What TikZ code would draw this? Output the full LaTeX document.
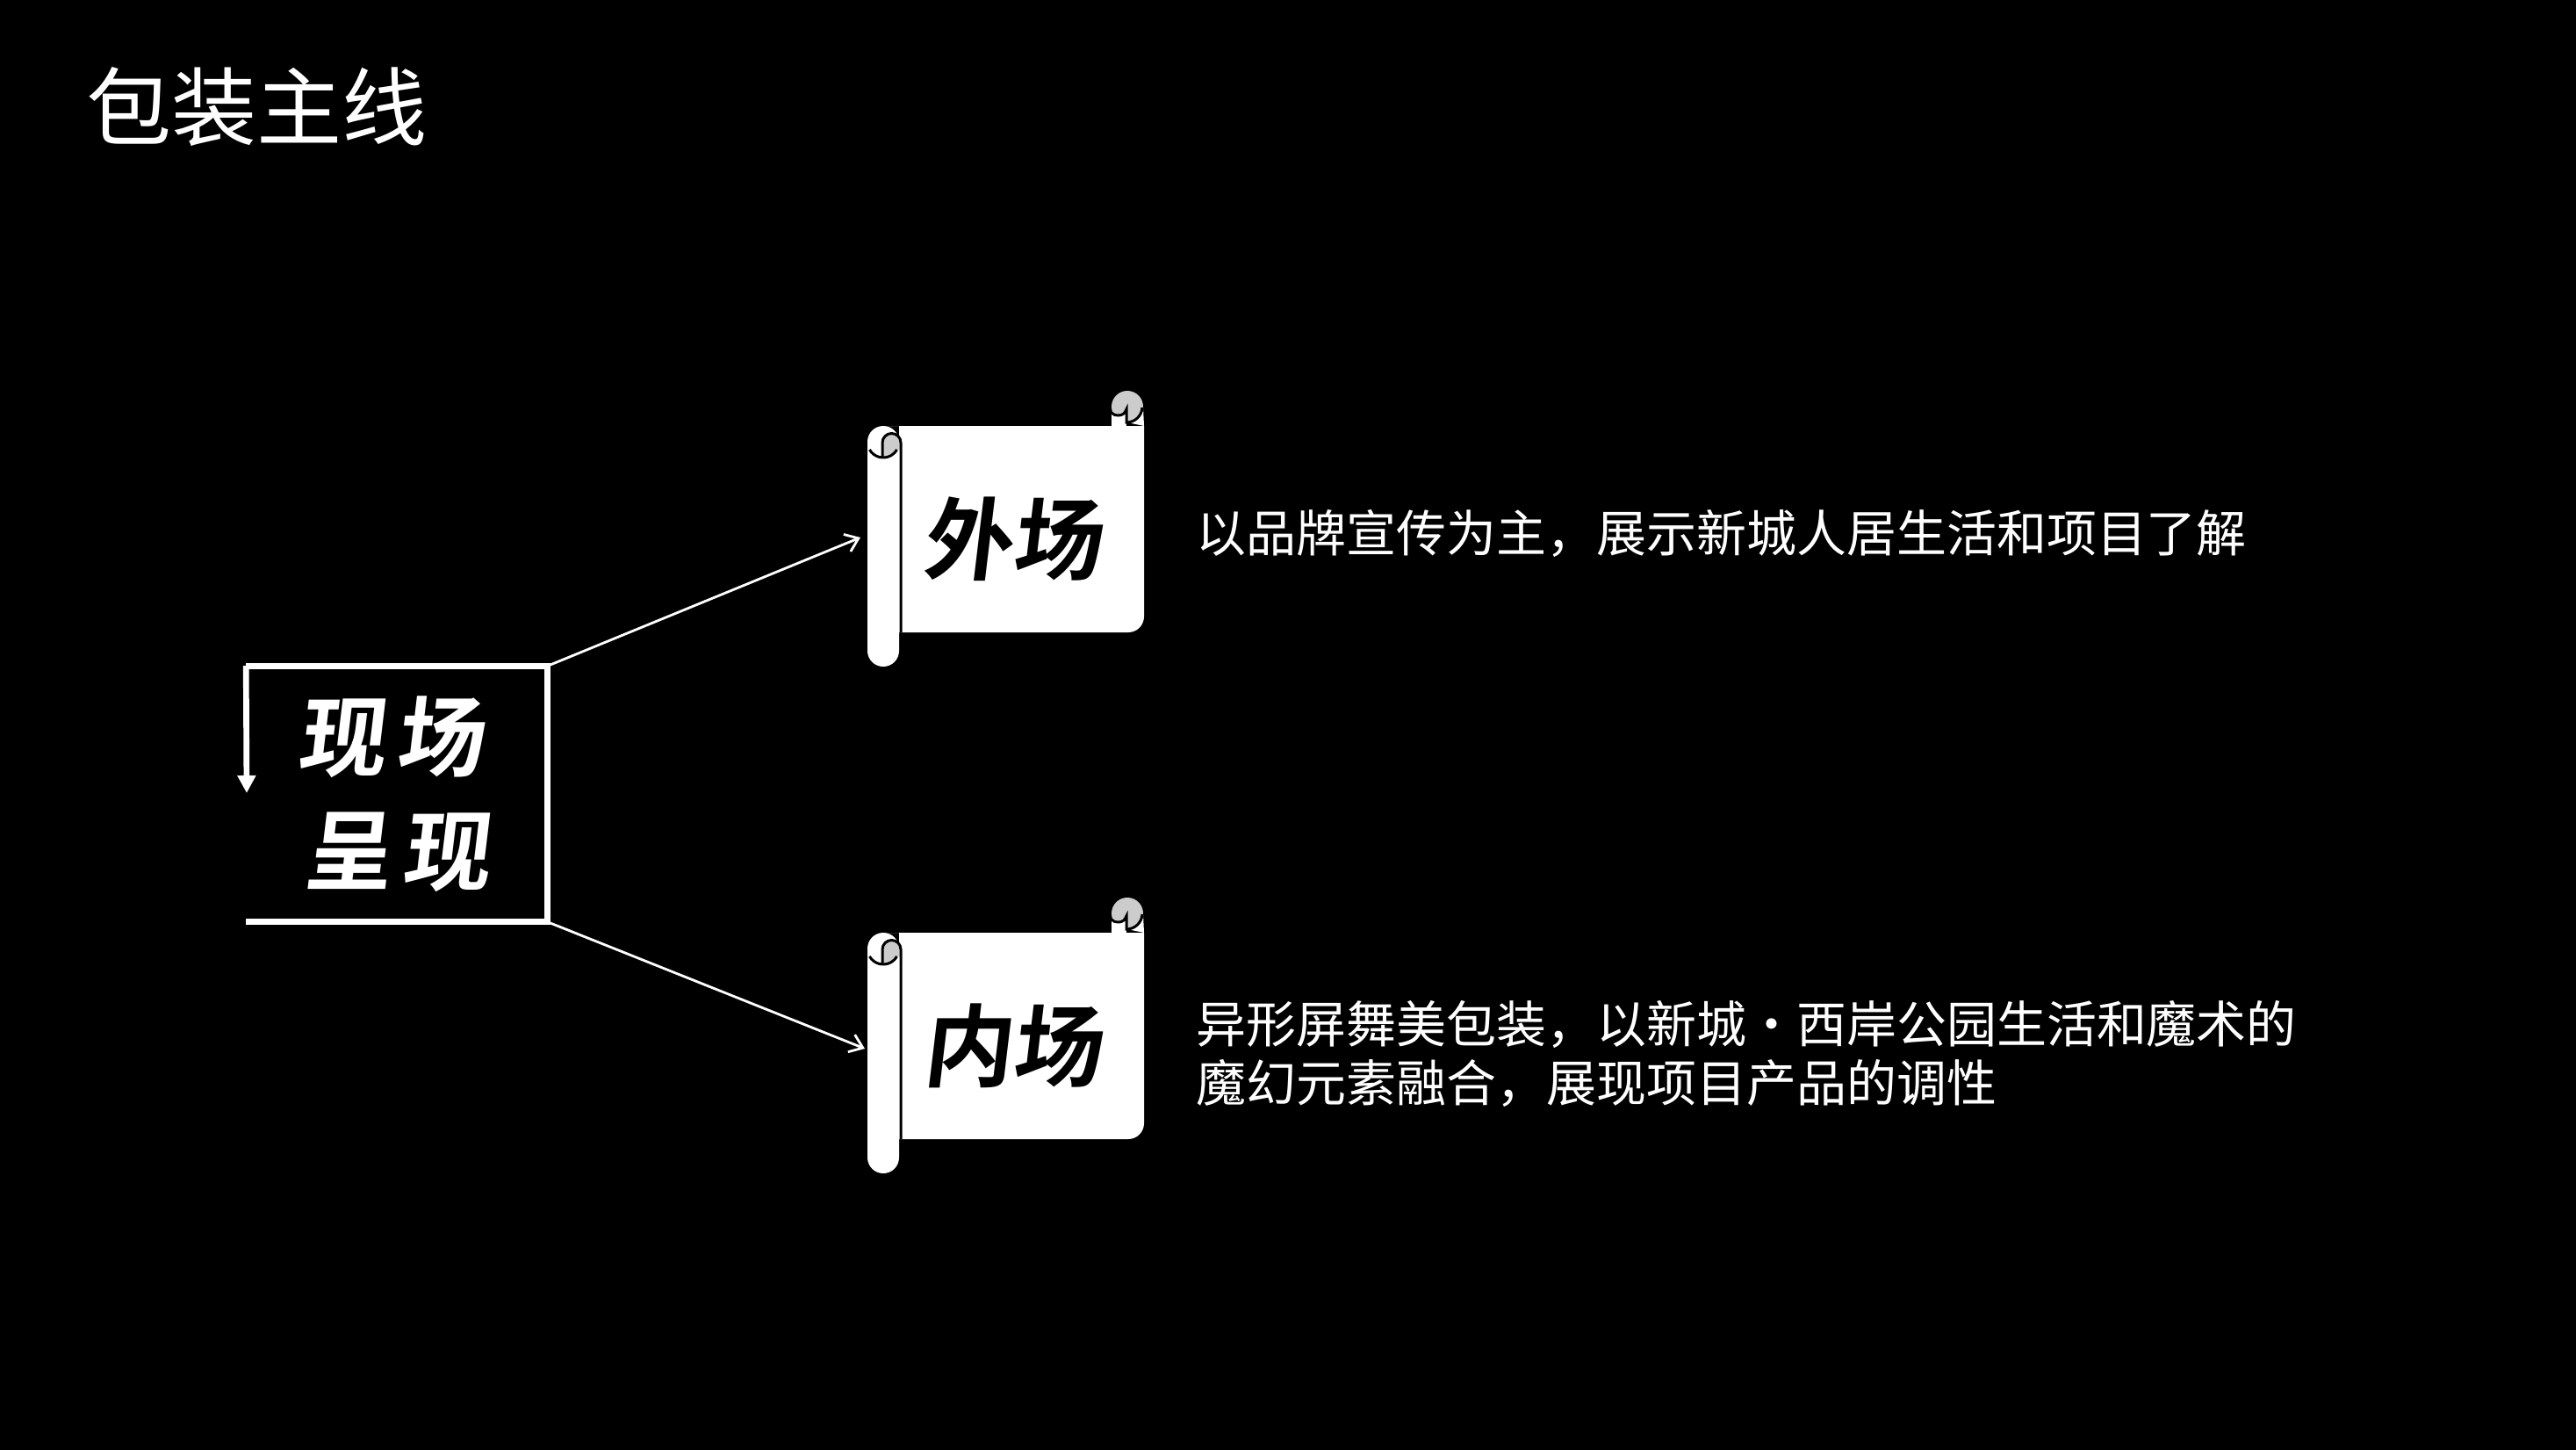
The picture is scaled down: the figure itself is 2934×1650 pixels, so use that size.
\documentclass[tikz,border=0pt]{standalone}
\usepackage{fontspec}
\usepackage{tikz}
\usetikzlibrary{arrows.meta, positioning}
\newfontfamily\cjk{Noto Sans CJK SC}
\newfontfamily\brush[FakeSlant=0.12]{Noto Sans CJK SC Bold}

\begin{document}
\begin{tikzpicture}[
      x=0.01cm, y=0.01cm,
      scrollbox/.style={rectangle, minimum width=2.76cm, minimum height=2.35cm, inner sep=0pt, font=\brush\fontsize{29}{34}\selectfont, text=black},
      desc/.style={inner sep=0pt, align=left, text=white, font=\cjk\fontsize{16.2}{19}\selectfont},
      curlfill/.style={fill=black!20},
      curlline/.style={draw=black, line width=0.85pt},
      arrow/.style={-{Straight Barb[length=4pt, width=6pt]}, white, line width=0.8pt},
      boxline/.style={white, line width=1.9pt}
    ]

    % Background
    \useasboundingbox (0,0) rectangle (2934,1650);
    \fill[black] (-5,-5) rectangle (2939,1655);

    % Title
    \node[inner sep=0pt, anchor=west, text=white, font=\cjk\fontsize{27.6}{33}\selectfont] (title) at (98,1528) {包装主线};

    % Scrolls
    \foreach \nm/\lbl/\dy in {outer/外场/0, inner/内场/577}{
      \begin{scope}[yshift=-\dy*0.01cm]
        % Top right curl
        \fill[curlfill] (1284,1187) circle (18);
        \fill[white] (1266,1165) rectangle (1283,1178);
        \fill[white] (1284,1169) arc[start angle=-90, end angle=-3, radius=18] -- (1303,1165) -- cycle;
        % Paper and left roll
        \fill[white] (1006,1165) -- (1303,1165) -- (1303,948) arc[start angle=0, end angle=-90, radius=18] -- (1024,930) -- (1024,1165) -- cycle;
        \fill[white] (988,909) arc[start angle=180, end angle=360, radius=18] -- (1024,1147) arc[start angle=0, end angle=180, radius=18] -- cycle;
        % Left curl
        \fill[curlfill] (1005,1129) -- (1005,1146) arc[start angle=180, end angle=0, radius=10.5] -- (1026,1138) -- (1021.6,1138) arc[start angle=330, end angle=270, radius=18] -- cycle;
        \draw[curlline] (990.4,1138) arc[start angle=210, end angle=330, radius=18];
        \draw[curlline] (1005,1129) -- (1005,1146) arc[start angle=180, end angle=0, radius=10.5] -- (1026,930);
        % Curl lines on the right
        \draw[curlline] (1266,1180) to[out=-50, in=180] (1274,1177) to[out=0, in=-110] (1283,1184) -- (1283,1169) arc[start angle=-90, end angle=-3, radius=18];
        % Text on the paper
        \node[scrollbox] (\nm) at (1152,1036) {\lbl};
      \end{scope}
    }

    % Descriptions
    \node[desc, right=0.71cm of outer.east, yshift=0.07cm] (outertext) {以品牌宣传为主，展示新城人居生活和项目了解};
    \node[desc, right=0.71cm of inner.east, yshift=-0.09cm] (innertext) {异形屏舞美包装，以新城·西岸公园生活和魔术的\\魔幻元素融合，展现项目产品的调性};

    % Box
    \node[minimum width=3.42cm, minimum height=2.9cm, inner sep=0pt, align=center, text=white, font=\brush\fontsize{28.5}{37}\selectfont] (box) at (452,746) {\hspace{-0.14cm}现\hspace{0.12cm}场\\\hspace{0cm}呈\hspace{0.12cm}现};
    \coordinate (boxtip) at (281,747);
    \draw[boxline] (box.south west) -- (box.south east) -- (box.north east) -- (box.north west);
    \draw[boxline, -{Triangle[length=5.7pt, width=5.7pt]}] (box.north west) -- (boxtip);

    % Arrows to the scrolls
    \coordinate (outertip) at (980,1038);
    \coordinate (innertip) at (985,456);
    \draw[arrow] (box.north east) -- (outertip);
    \draw[arrow] (box.south east) -- (innertip);

\end{tikzpicture}
\end{document}
